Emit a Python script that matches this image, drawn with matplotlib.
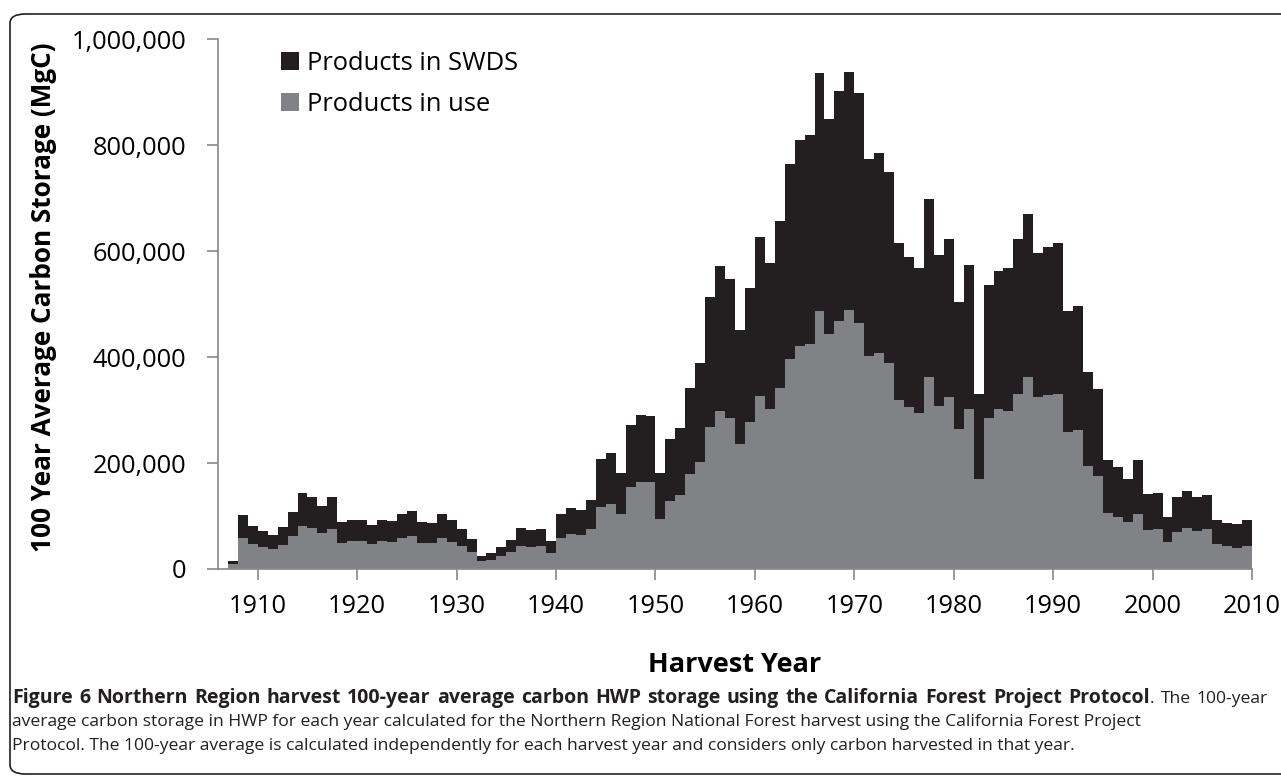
import matplotlib
matplotlib.use('Agg')
import matplotlib.pyplot as plt
from matplotlib.patches import FancyBboxPatch
from matplotlib.ticker import FuncFormatter
import numpy as np

plt.rcParams['font.family'] = ['Open Sans', 'DejaVu Sans']

# harvest years, one bar per year
years = np.arange(1907, 2010)

# 100-year average carbon storage, thousands of MgC
in_use = [9.4, 58, 47, 41.5, 38, 45, 62, 82, 77, 68,
          76, 50, 52, 52, 47, 52, 51.5, 58.5, 62, 50,
          50, 59, 51.5, 43, 33, 15, 17.6, 24.5, 32, 44,
          42, 43, 31, 58, 66, 65, 75, 117, 123, 103,
          155, 164, 163.5, 95, 128, 140, 179, 202, 268, 298,
          284, 236, 277, 326, 301, 341.5, 397, 421, 425, 487,
          443, 468.5, 489, 465, 402, 407, 389, 319, 306, 295,
          362, 307.5, 324, 265, 302, 170, 285, 302, 298, 331,
          362, 324, 328, 330, 258.5, 262, 194, 175.5, 106, 97.5,
          88, 103, 73.6, 75.5, 51.6, 70.4, 77.4, 72.3, 74.8, 47,
          43.4, 40.2, 43.4]
in_swds = [6.3, 43, 35, 30.5, 27, 34, 45.5, 62, 59, 51.5,
           59, 39, 40, 40, 36, 41, 39.5, 45.5, 47, 39,
           37, 45, 40.5, 32, 24, 10, 13.4, 17.5, 23, 34,
           31.6, 33, 21, 45, 50, 47, 56, 90, 95, 77.5,
           117, 126, 124.5, 85.5, 117, 126, 163, 186, 246, 274,
           262.5, 214, 254, 301, 277, 315, 368, 388, 393, 448,
           407, 432.5, 449, 432.5, 371.6, 377, 359.4, 297, 283, 272,
           335.5, 284.5, 299, 238, 272, 159.6, 250, 261, 270, 292,
           308, 273, 280, 284.5, 227.5, 235, 177, 164.5, 100, 94.5,
           82, 103, 67.4, 67.3, 47.1, 65.6, 69.2, 62.7, 64.2, 45.5,
           44, 44.1, 49.1]

in_use = np.array(in_use) * 1000
in_swds = np.array(in_swds) * 1000

caption_bold = ('Figure 6 Northern Region harvest 100-year average carbon HWP '
                'storage using the California Forest Project Protocol')
caption_lines = [
    '. The 100-year',
    'average carbon storage in HWP for each year calculated for the Northern '
    'Region National Forest harvest using the California Forest Project',
    'Protocol. The 100-year average is calculated independently for each '
    'harvest year and considers only carbon harvested in that year.',
]

W, H = 1281, 778
fig = plt.figure(figsize=(W / 100, H / 100), dpi=100)

# rounded frame round chart and caption
frame = FancyBboxPatch((10 / W, 1 - 774 / H), 1290 / W, 760 / H,
                       boxstyle='round,pad=0,rounding_size=0.012',
                       transform=fig.transFigure, fill=False,
                       edgecolor='#231f20', linewidth=1.2)
fig.patches.append(frame)

ax = fig.add_axes([218 / W, 1 - 569 / H, (1252 - 218) / W, (569 - 39) / H])

ax.bar(years, in_use, width=1.0, align='edge', color='#808285',
       linewidth=0, label='Products in use')
ax.bar(years, in_swds, width=1.0, align='edge', bottom=in_use,
       color='#231f20', linewidth=0, label='Products in SWDS')

ax.set_xlim(1906, 2010)
ax.set_ylim(0, 1000000)
ax.set_xticks(np.arange(1910, 2011, 10))
ax.set_yticks(np.arange(0, 1000001, 200000))
ax.yaxis.set_major_formatter(FuncFormatter(lambda v, p: '{:,}'.format(int(v))))

for s in ['top', 'right']:
    ax.spines[s].set_visible(False)
for s in ['left', 'bottom']:
    ax.spines[s].set_color('#888888')
    ax.spines[s].set_linewidth(1.2)
ax.tick_params(axis='both', direction='out', length=8, width=1.2,
               color='#888888', labelsize=18.3, labelcolor='black')
ax.tick_params(axis='y', pad=15)
ax.tick_params(axis='x', pad=10)

ax.set_ylabel('100 Year Average Carbon Storage (MgC)', fontsize=18.8,
              fontweight='bold')
ax.yaxis.set_label_coords(-0.156, 0.512)
ax.set_xlabel('Harvest Year', fontsize=19.5, fontweight='bold', labelpad=24)

h, l = ax.get_legend_handles_labels()
ax.legend(h[::-1], l[::-1], loc='upper left', bbox_to_anchor=(0.051, 0.996),
          frameon=False, fontsize=18.4, handlelength=0.7, handleheight=0.7,
          handletextpad=0.3, labelspacing=0.62, borderaxespad=0)

# caption, first line justified across the frame
fig.canvas.draw()
r = fig.canvas.get_renderer()
left_px, right_px = 12, 1268
size_b, size_r = 14.0, 12.6
tokens = [(w, 'bold', True) for w in caption_bold.split(' ')]
tokens.append(('.', 'normal', False))
rest = caption_lines[0][1:].split(' ')
for w in rest[1:]:
    tokens.append((w, 'normal', True))
widths = []
for w, wt, sp in tokens:
    t = fig.text(0, 0, w, fontsize=size_b if wt == 'bold' else size_r, fontweight=wt)
    widths.append(t.get_window_extent(r).width)
    t.remove()
n_gaps = sum(1 for tk in tokens[1:] if tk[2])
gap = (right_px - left_px - sum(widths)) / n_gaps
x = left_px
for (w, wt, sp), wd in zip(tokens, widths):
    if sp and x > left_px:
        x += gap
    fig.text(x / W, 1 - 703 / H, w, fontsize=size_b if wt == 'bold' else size_r,
             fontweight=wt, color='#231f20', va='baseline')
    x += wd

for i, line in enumerate(caption_lines[1:]):
    fig.text(left_px / W, 1 - (726 + 24 * i) / H, line, fontsize=size_r,
             color='#231f20', va='baseline')

fig.savefig('out.png', dpi=100)
